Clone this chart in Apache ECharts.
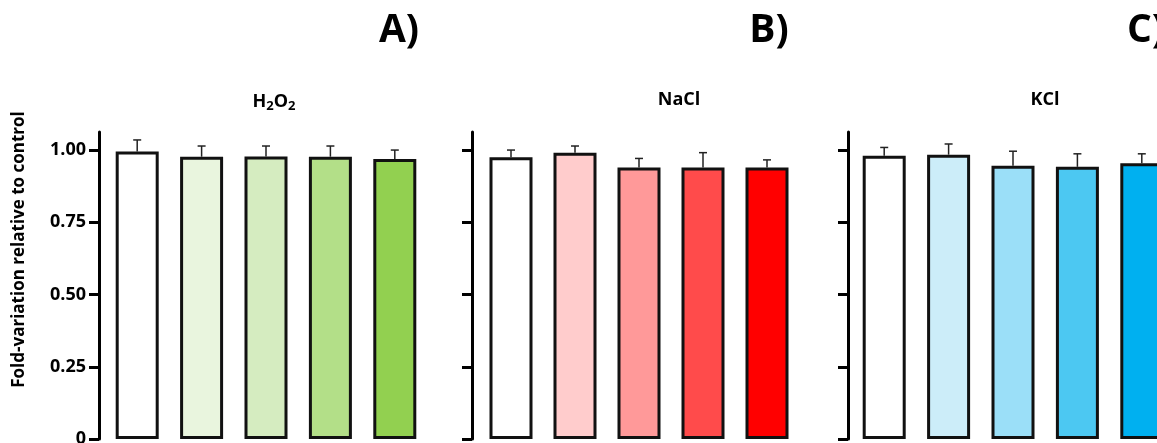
<!DOCTYPE html>
<html><head><meta charset="utf-8">
<script src="https://cdn.jsdelivr.net/npm/echarts@6/dist/echarts.min.js"></script>
<style>html,body{margin:0;padding:0;background:#fff}#c{width:1157px;height:443px}</style>
</head><body><div id="c"></div>
<script>
// ---- data ----
const categories = ['Control', 'Dose 1', 'Dose 2', 'Dose 3', 'Dose 4'];
const tickValues = [0, 0.25, 0.5, 0.75, 1.0];
const tickLabels = ['0', '0.25', '0.50', '0.75', '1.00'];
const panelLetters = ['A)', 'B)', 'C)'];
const panelTitles = ['H2O2', 'NaCl', 'KCl'];
const yAxisName = 'Fold-variation relative to control';

const h2o2Mean = [0.995, 0.977, 0.978, 0.977, 0.969];
const h2o2Err  = [0.040, 0.037, 0.036, 0.037, 0.031];
const naclMean = [0.975, 0.991, 0.940, 0.940, 0.940];
const naclErr  = [0.025, 0.023, 0.031, 0.051, 0.026];
const kclMean  = [0.980, 0.984, 0.946, 0.942, 0.954];
const kclErr   = [0.029, 0.037, 0.050, 0.045, 0.033];

const h2o2Colors = ['#ffffff', '#e9f5de', '#d5ecc0', '#b3df88', '#92d050'];
const naclColors = ['#ffffff', '#ffcccc', '#ff9999', '#ff4b4b', '#ff0000'];
const kclColors  = ['#ffffff', '#ccedf9', '#9bdff8', '#4cc8f2', '#00b0f0'];

// ---- layout ----
const FONT = '"Open Sans", "Liberation Sans", sans-serif';
const panels = [
  {mean: h2o2Mean, err: h2o2Err, colors: h2o2Colors, left: 105, width: 322, offset: 6, letterX: 394, titleX: 269},
  {mean: naclMean, err: naclErr, colors: naclColors, left: 479, width: 320, offset: 7, letterX: 764, titleX: 674},
  {mean: kclMean,  err: kclErr,  colors: kclColors,  left: 852, width: 322, offset: 4, letterX: 1141, titleX: 1040}
];

const grids = [], xAxes = [], yAxes = [], series = [], titles = [];
panels.forEach((p, i) => {
  grids.push({left: p.left, width: p.width, top: 132, bottom: 4, containLabel: false, outerBoundsMode: 'none'});
  xAxes.push({type: 'category', gridIndex: i, data: categories,
    axisLine: {show: false}, axisTick: {show: false}, axisLabel: {show: false}});
  yAxes.push({type: 'value', gridIndex: i, min: 0, max: 1.0625, offset: p.offset,
    splitLine: {show: false},
    axisLine: {show: true, lineStyle: {color: '#000', width: 3}},
    axisTick: {show: true, length: 10, lineStyle: {color: '#000', width: 3}, customValues: tickValues},
    axisLabel: {show: i === 0, customValues: tickValues, margin: 13,
      formatter: v => { const k = tickValues.indexOf(v); return k >= 0 ? tickLabels[k] : ''; },
      color: '#000', fontFamily: FONT, fontWeight: 'bold', fontSize: 18}
  });
  series.push({type: 'bar', xAxisIndex: i, yAxisIndex: i, barWidth: 43, z: 2,
    data: p.mean.map((v, k) => ({value: v, itemStyle: {color: p.colors[k]}})),
    itemStyle: {borderColor: '#111', borderWidth: 3},
    silent: true});
  series.push({type: 'custom', xAxisIndex: i, yAxisIndex: i, z: 1,
    data: p.mean.map((v, k) => [k, v, p.err[k]]),
    renderItem: (params, api) => {
      const x = api.value(0), m = api.value(1), e = api.value(2);
      const b = api.coord([x, m]), t = api.coord([x, m + e]);
      const st = {stroke: '#222', lineWidth: 1.5};
      return {type: 'group', children: [
        {type: 'line', shape: {x1: b[0], y1: b[1], x2: t[0], y2: t[1]}, style: st},
        {type: 'line', shape: {x1: t[0] - 4, y1: t[1], x2: t[0] + 4, y2: t[1]}, style: st}
      ]};
    }});
  titles.push({text: panelLetters[i], left: p.letterX, top: 6, textAlign: 'center',
    textStyle: {fontFamily: FONT, fontWeight: 'bold', fontSize: 39, color: '#000'}});
  const t = panelTitles[i];
  titles.push({text: t === 'H2O2' ? '{b|H}{s|2}{b|O}{s|2}' : t, left: p.titleX, top: 86, textAlign: 'center',
    textStyle: {fontFamily: FONT, fontWeight: 'bold', fontSize: 18, color: '#000',
      rich: {b: {fontFamily: FONT, fontWeight: 'bold', fontSize: 18, color: '#000'},
             s: {fontFamily: FONT, fontWeight: 'bold', fontSize: 13, color: '#000', padding: [9, 0, 0, 0]}}}});
});

const chart = echarts.init(document.getElementById('c'), null, {renderer: 'canvas'});
chart.setOption({animation: false, backgroundColor: '#fff', title: titles,
  grid: grids, xAxis: xAxes, yAxis: yAxes, series: series,
  graphic: [{type: 'text', x: 19, y: 249.5, rotation: Math.PI / 2,
    style: {text: yAxisName, textAlign: 'center', textVerticalAlign: 'middle', fill: '#000',
      font: 'bold 17px ' + FONT}}]});
</script></body></html>
